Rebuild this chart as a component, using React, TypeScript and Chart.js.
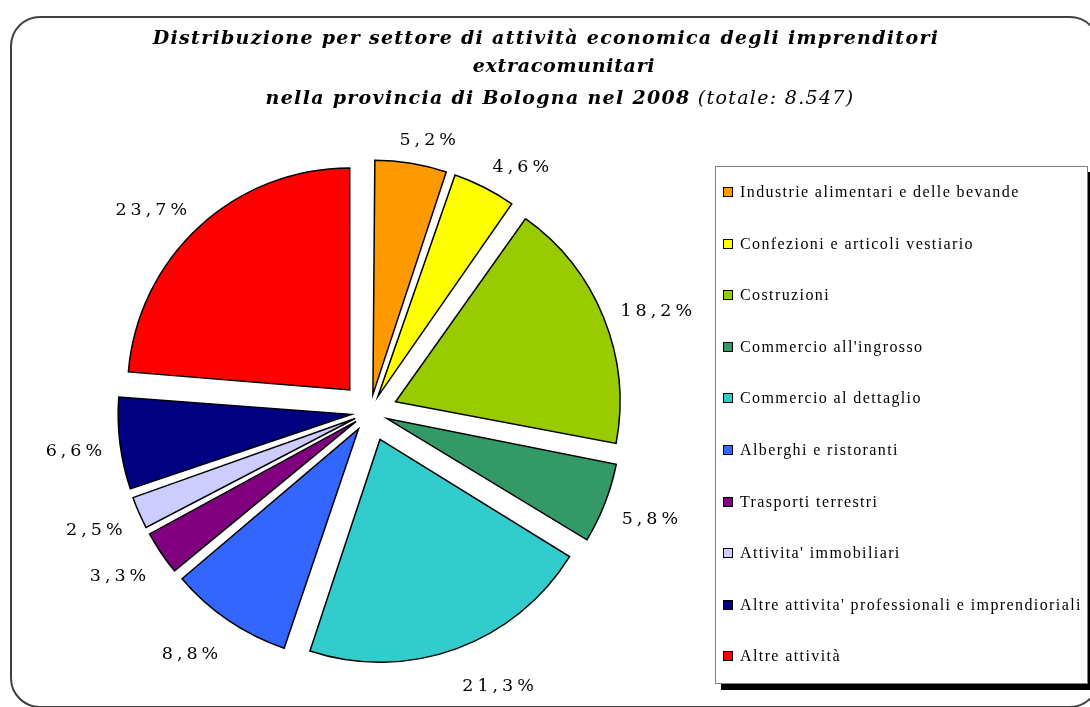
import React, { useEffect, useRef } from "react";
import { Chart, registerables } from "chart.js";

Chart.register(...registerables);

const categories = [
  "Industrie alimentari e delle bevande",
  "Confezioni e articoli vestiario",
  "Costruzioni",
  "Commercio all'ingrosso",
  "Commercio al dettaglio",
  "Alberghi e ristoranti",
  "Trasporti terrestri",
  "Attivita' immobiliari",
  "Altre attivita' professionali e imprendioriali",
  "Altre attività",
];
const values = [5.2, 4.6, 18.2, 5.8, 21.3, 8.8, 3.3, 2.5, 6.6, 23.7];
const valueLabels = ["5,2%", "4,6%", "18,2%", "5,8%", "21,3%", "8,8%", "3,3%", "2,5%", "6,6%", "23,7%"];
const colors = [
  "#FF9900",
  "#FFFF00",
  "#99CC00",
  "#339966",
  "#33CCCC",
  "#3366FF",
  "#800080",
  "#CCCCFF",
  "#000080",
  "#FF0000",
];
const titleLine1 = "Distribuzione per settore di attività economica degli imprenditori";
const titleLine2 = "extracomunitari";
const titleLine3Bold = "nella provincia di Bologna nel 2008";
const titleLine3Normal = " (totale: 8.547)";

const EXPLODE = 30;
const LABEL_GAP = 18;
const LABEL_LS = 4;
const total = values.reduce((a, b) => a + b, 0);

const outsideLabels = {
  id: "outsideLabels",
  afterDatasetsDraw(chart: any) {
    const ctx = chart.ctx as CanvasRenderingContext2D;
    const meta = chart.getDatasetMeta(0);
    ctx.save();
    ctx.font = '17.5px "DejaVu Serif"';
    (ctx as any).letterSpacing = LABEL_LS + "px";
    ctx.fillStyle = "#000";
    ctx.textAlign = "center";
    ctx.textBaseline = "middle";
    const h = 16;
    meta.data.forEach((arc: any, i: number) => {
      const p = arc.getProps(["x", "y", "startAngle", "endAngle", "outerRadius"], true);
      const mid = (p.startAngle + p.endAngle) / 2;
      const c = Math.cos(mid);
      const s = Math.sin(mid);
      const w = ctx.measureText(valueLabels[i]).width - LABEL_LS;
      const d = p.outerRadius + EXPLODE + LABEL_GAP;
      const hx = Math.max(-1, Math.min(1, 3 * c));
      const below = s > 0 ? s * 11 : 0;
      const x = p.x + c * d + (hx * w) / 2;
      const y = p.y + s * d + (s * h) / 2 + 3 + below;
      ctx.fillText(valueLabels[i], x + LABEL_LS / 2, y);
    });
    ctx.restore();
  },
};

export default function App() {
  const canvasRef = useRef<HTMLCanvasElement | null>(null);

  useEffect(() => {
    document.body.style.overflow = "hidden";
    const canvas = canvasRef.current;
    if (!canvas) return;
    const chart = new Chart(canvas, {
      type: "pie",
      data: {
        labels: categories,
        datasets: [
          {
            data: values,
            backgroundColor: colors,
            borderColor: "#000000",
            borderWidth: 1.5,
            borderJoinStyle: "miter",
            offset: (c: any) => {
              const v = values[c.dataIndex] ?? 0;
              const circ = (v / total) * 2 * Math.PI;
              const fix = 1 - Math.sin(Math.min(Math.PI, circ));
              return (4 * EXPLODE) / (1 + fix);
            },
          } as any,
        ],
      },
      options: {
        responsive: false,
        animation: false,
        devicePixelRatio: 1,
        events: [],
        radius: 222,
        layout: { padding: { left: 100, right: 450, top: 150, bottom: 33 } },
        plugins: {
          legend: { display: false },
          title: { display: false },
          tooltip: { enabled: false },
        },
      } as any,
      plugins: [outsideLabels],
    });
    return () => chart.destroy();
  }, []);

  const titleBase: React.CSSProperties = {
    position: "absolute",
    whiteSpace: "nowrap",
    transform: "translateX(-50%)",
    fontFamily: '"DejaVu Serif", serif',
    fontStyle: "italic",
    fontSize: 19,
    letterSpacing: "1.3px",
    color: "#000",
    lineHeight: "22px",
  };

  return (
    <div
      style={{
        position: "fixed",
        left: 0,
        top: 0,
        width: 1090,
        height: 707,
        overflow: "hidden",
        background: "#fff",
      }}
    >
      <div
        style={{
          position: "absolute",
          left: 10,
          top: 16,
          width: 1090,
          height: 692,
          border: "2px solid #404040",
          borderRadius: 30,
          boxSizing: "border-box",
        }}
      />
      <canvas
        ref={canvasRef}
        width={1090}
        height={707}
        style={{ position: "absolute", left: 0, top: 0, width: 1090, height: 707 }}
      />
      <div style={{ ...titleBase, left: 546, top: 26, fontWeight: "bold" }}>{titleLine1}</div>
      <div style={{ ...titleBase, left: 564, top: 54, fontWeight: "bold", letterSpacing: "0.7px" }}>
        {titleLine2}
      </div>
      <div style={{ ...titleBase, left: 560, top: 86 }}>
        <span style={{ fontWeight: "bold" }}>{titleLine3Bold}</span>
        <span style={{ fontWeight: "normal" }}>{titleLine3Normal}</span>
      </div>
      <div
        style={{
          position: "absolute",
          left: 715,
          top: 166,
          width: 373,
          height: 518,
          border: "1px solid #808080",
          boxSizing: "border-box",
          background: "#fff",
          boxShadow: "6px 6px 0 #000",
        }}
      >
        {categories.map((c, i) => (
          <div
            key={c}
            style={{
              position: "absolute",
              left: 7,
              top: 25 + i * 51.6 - 9,
              height: 18,
              display: "flex",
              alignItems: "center",
              whiteSpace: "nowrap",
            }}
          >
            <span
              style={{
                display: "inline-block",
                width: 8,
                height: 8,
                background: colors[i],
                border: "1.5px solid #000",
                marginRight: 7,
                flex: "none",
              }}
            />
            <span
              style={{
                fontFamily: '"Liberation Serif", serif',
                fontSize: 16,
                letterSpacing: "1.4px",
                color: "#000",
              }}
            >
              {c}
            </span>
          </div>
        ))}
      </div>
    </div>
  );
}
